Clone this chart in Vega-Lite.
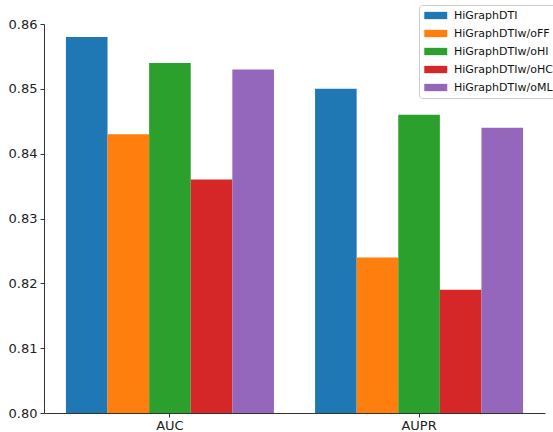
{
  "$schema": "https://vega.github.io/schema/vega-lite/v6.json",
  "autosize": "none",
  "width": 501,
  "height": 389,
  "padding": {"left": 44, "top": 24, "right": 8, "bottom": 19},
  "background": "white",
  "config": {
    "view": {"stroke": null},
    "font": "DejaVu Sans",
    "axis": {"labelFont": "DejaVu Sans", "labelFontSize": 13, "labelColor": "#222", "domainColor": "#333", "tickColor": "#333", "grid": false, "title": null}
  },
  "data": {
    "values": [
      {"metric": "AUC", "model": "HiGraphDTI", "value": 0.858},
      {"metric": "AUC", "model": "HiGraphDTIw/oFF", "value": 0.843},
      {"metric": "AUC", "model": "HiGraphDTIw/oHI", "value": 0.854},
      {"metric": "AUC", "model": "HiGraphDTIw/oHC", "value": 0.836},
      {"metric": "AUC", "model": "HiGraphDTIw/oML", "value": 0.853},
      {"metric": "AUPR", "model": "HiGraphDTI", "value": 0.850},
      {"metric": "AUPR", "model": "HiGraphDTIw/oFF", "value": 0.824},
      {"metric": "AUPR", "model": "HiGraphDTIw/oHI", "value": 0.846},
      {"metric": "AUPR", "model": "HiGraphDTIw/oHC", "value": 0.819},
      {"metric": "AUPR", "model": "HiGraphDTIw/oML", "value": 0.844}
    ]
  },
  "mark": {"type": "bar", "clip": true},
  "encoding": {
    "x": {
      "field": "metric", "type": "nominal", "sort": ["AUC", "AUPR"],
      "scale": {"paddingInner": 0.165, "paddingOuter": 0.088},
      "axis": {"labelAngle": 0, "tickSize": 4, "labelPadding": 2}
    },
    "xOffset": {
      "field": "model", "type": "nominal",
      "sort": ["HiGraphDTI", "HiGraphDTIw/oFF", "HiGraphDTIw/oHI", "HiGraphDTIw/oHC", "HiGraphDTIw/oML"],
      "scale": {"paddingInner": 0, "paddingOuter": 0}
    },
    "y": {
      "field": "value", "type": "quantitative",
      "scale": {"domain": [0.80, 0.86], "zero": false, "nice": false},
      "axis": {"values": [0.80, 0.81, 0.82, 0.83, 0.84, 0.85, 0.86], "format": ".2f", "tickSize": 4, "labelPadding": 3}
    },
    "color": {
      "field": "model", "type": "nominal",
      "sort": ["HiGraphDTI", "HiGraphDTIw/oFF", "HiGraphDTIw/oHI", "HiGraphDTIw/oHC", "HiGraphDTIw/oML"],
      "scale": {"range": ["#1f77b4", "#ff7f0e", "#2ca02c", "#d62728", "#9467bd"]},
      "legend": {
        "title": null, "orient": "none", "legendX": 375, "legendY": -19,
        "symbolType": "M-1,-0.7H3.4V0.7H-1Z", "symbolSize": 109, "symbolStrokeWidth": 0,
        "labelFontSize": 11, "labelColor": "#111", "labelFont": "DejaVu Sans", "labelLimit": 200,
        "strokeColor": "#cccccc", "fillColor": "white", "cornerRadius": 3, "padding": 5,
        "rowPadding": 6, "labelOffset": 19
      }
    }
  }
}
